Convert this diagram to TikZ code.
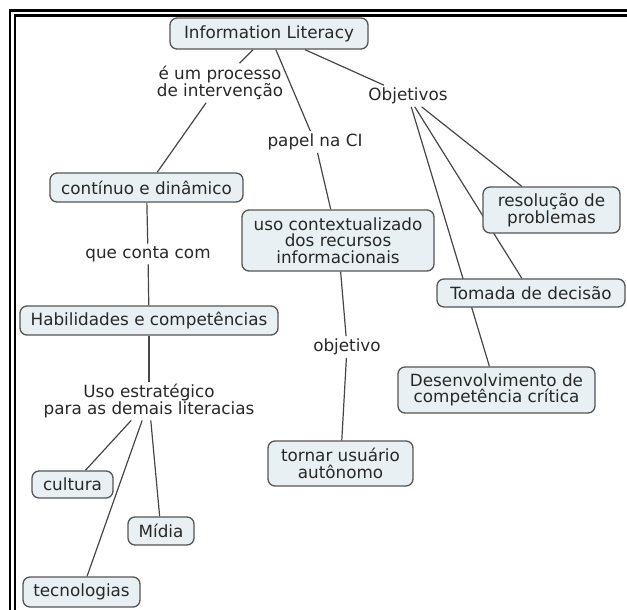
\documentclass[tikz,border=0pt]{standalone}
\usepackage{fontspec}
\setmainfont{DejaVu Sans}
\definecolor{boxfill}{RGB}{232,240,243}
\definecolor{boxline}{RGB}{85,85,85}
\definecolor{linkline}{RGB}{70,70,70}
\definecolor{inktext}{RGB}{40,40,40}
\pgfdeclarelayer{background}
\pgfsetlayers{background,main}
\begin{document}
\begin{tikzpicture}[x=1pt,y=-1pt,
  concept/.style={draw=boxline, line width=1.3pt, fill=boxfill, rounded corners=7pt,
    align=center, inner sep=0pt, text=inktext, font=\fontsize{16.8}{16.5}\selectfont},
  phrase/.style={align=center, inner sep=2.5pt, text=inktext, font=\fontsize{16.8}{16.5}\selectfont},
  link/.style={draw=linkline, line width=1.2pt}]
\useasboundingbox (0,0) rectangle (627,610);

% double frame on the left and top
\draw[line width=2.3pt] (10,610) -- (10,10.5) -- (627,10.5);
\draw[line width=2.6pt] (15,610) -- (15,15.3) -- (627,15.3);

% concepts
\node[concept, minimum width=198, minimum height=31] (il) at (269,33.5) {Information Literacy};
\node[concept, minimum width=193, minimum height=29] (cont) at (146.5,187.5) {contínuo e dinâmico};
\node[concept, minimum width=258, minimum height=29] (hab) at (149,320.5) {Habilidades e competências};
\node[concept, minimum width=81, minimum height=27] (cult) at (72.5,484.5) {cultura};
\node[concept, minimum width=66, minimum height=28] (midia) at (161,531) {Mídia};
\node[concept, minimum width=117, minimum height=30] (tec) at (81.5,592) {tecnologias};
\node[concept, minimum width=192, minimum height=61] (uso) at (338,240.5) {uso contextualizado\\dos recursos\\informacionais};
\node[concept, minimum width=145, minimum height=45] (torn) at (340.5,463.5) {tornar usuário\\autônomo};
\node[concept, minimum width=137, minimum height=46] (res) at (551.5,210) {resolução de\\problemas};
\node[concept, minimum width=188, minimum height=28] (tom) at (531,293) {Tomada de decisão};
\node[concept, minimum width=197, minimum height=46] (des) at (496.5,390) {Desenvolvimento de\\competência crítica};

% linking phrases
\node[phrase] (eum) at (220,83) {é um processo\\de intervenção};
\node[phrase] (papel) at (315,142) {papel na CI};
\node[phrase] (obj) at (408,96) {Objetivos};
\node[phrase] (conta) at (148,254) {que conta com};
\node[phrase] (estr) at (149,401) {Uso estratégico\\para as demais literacias};
\node[phrase] (objt) at (347,347) {objetivo};

% connectors
\begin{pgfonlayer}{background}
\draw[link] (il) -- (eum);
\draw[link] (eum) -- (cont);
\draw[link] (il) -- (papel);
\draw[link] (papel) -- (uso);
\draw[link] (il) -- (obj);
\draw[link] (obj) -- (res);
\draw[link] (obj) -- (tom);
\draw[link] (obj) -- (des);
\draw[link] (cont) -- (conta);
\draw[link] (conta) -- (hab);
\draw[link] (hab) -- (estr);
\draw[link] (estr) -- (cult);
\draw[link] (estr) -- (tec);
\draw[link] (estr) -- (midia);
\draw[link] (uso) -- (objt);
\draw[link] (objt) -- (torn);
\end{pgfonlayer}
\end{tikzpicture}
\end{document}
